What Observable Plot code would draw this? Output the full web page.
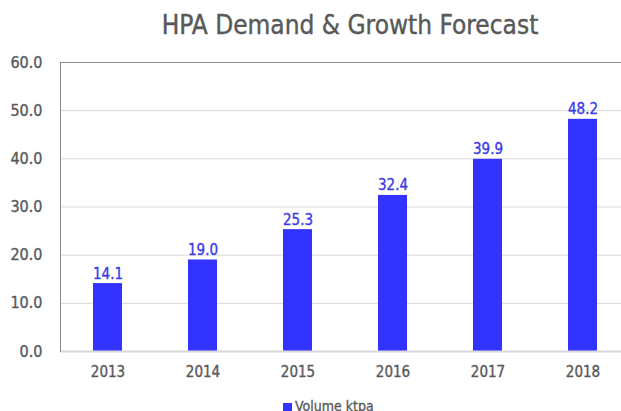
<!DOCTYPE html>
<html>
<head>
<meta charset="utf-8">
<script src="https://cdn.jsdelivr.net/npm/d3@7"></script>
<script src="https://cdn.jsdelivr.net/npm/@observablehq/plot@0.6"></script>
<style>
  body { margin: 0; background: #fff; width: 621px; height: 411px; overflow: hidden; font-family: "DejaVu Sans Condensed", Roboto, sans-serif; }
  #title { height: 50px; position: relative; }
  #title span { position: absolute; left: 350px; top: 10px; transform: translateX(-50%); white-space: nowrap; font-size: 26px; color: #595959; -webkit-text-stroke: 0.4px #595959; }
  #legend { position: relative; height: 16px; }
  #legend .sw { position: absolute; left: 283px; top: 8px; width: 9px; height: 9px; background: #3333ff; }
  #legend .lb { position: absolute; left: 295px; top: 3px; font-size: 14px; color: #595959; white-space: nowrap; -webkit-text-stroke: 0.3px #595959; }
  #chart g[aria-label$="axis tick label"] text { stroke: #595959; stroke-width: 0.35px; }
</style>
</head>
<body>
<div id="title"><span>HPA Demand &amp; Growth Forecast</span></div>
<div id="chart"></div>
<div id="legend"><div class="sw"></div><div class="lb">Volume ktpa</div></div>
<script>
const years = ["2013", "2014", "2015", "2016", "2017", "2018"];
const volume = [14.1, 19.0, 25.3, 32.4, 39.9, 48.2];
const seriesName = "Volume ktpa";
const yTicks = [0, 10, 20, 30, 40, 50, 60];

const data = years.map((y, i) => ({year: y, value: volume[i]}));
const font = '"DejaVu Sans Condensed", Roboto, sans-serif';

const chart = Plot.plot({
  width: 621,
  height: 345,
  marginTop: 12,
  marginBottom: 44,
  marginLeft: 60,
  marginRight: 0,
  style: {fontFamily: font, background: "#fff", overflow: "hidden"},
  x: {domain: years, range: [59.3, 631.7], paddingInner: 0.69, paddingOuter: 0.345},
  y: {domain: [0, 60]},
  marks: [
    Plot.ruleY(yTicks.filter(d => d > 0 && d < 60), {stroke: "#d9d9d9", strokeWidth: 1}),
    Plot.ruleY([60], {stroke: "#8c8c8c", strokeWidth: 1}),
    Plot.barY(data, {x: "year", y: "value", fill: "#3333ff"}),
    Plot.ruleY([0], {stroke: "#d9d9d9", strokeWidth: 2}),
    Plot.frame({anchor: "left", stroke: "#8c8c8c"}),
    Plot.text(data, {x: "year", y: "value", text: d => d.value.toFixed(1), lineAnchor: "bottom", dy: -5, fill: "#3b3be6", stroke: "#3b3be6", strokeWidth: 0.35, fontSize: 15}),
    Plot.axisY({ticks: yTicks, tickFormat: d => d.toFixed(1), tickSize: 0, tickPadding: 18, fontSize: 16, color: "#595959", label: null}),
    Plot.axisX({tickSize: 0, tickPadding: 15, fontSize: 15, color: "#595959", label: null})
  ]
});
document.getElementById("chart").appendChild(chart);
</script>
</body>
</html>
